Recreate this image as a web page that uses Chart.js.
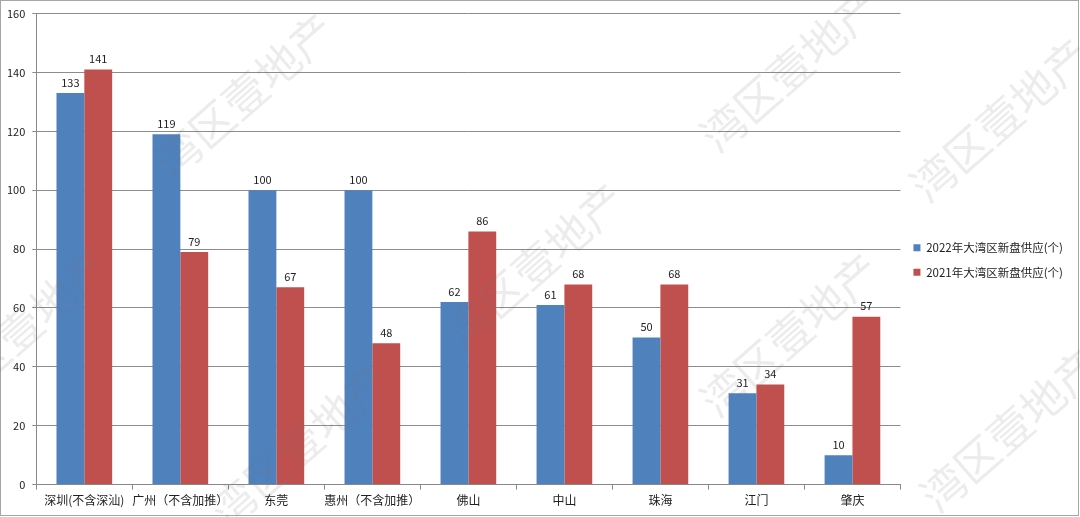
<!DOCTYPE html>
<html>
<head>
<meta charset="utf-8">
<script src="https://cdn.jsdelivr.net/npm/chart.js@4/dist/chart.umd.min.js"></script>
<style>
  html, body { margin: 0; padding: 0; background: #fff; }
  #wrap { width: 1080px; height: 517px; }
</style>
</head>
<body>
<div id="wrap"><canvas id="chart" width="1080" height="517"></canvas></div>
<script>
const cities = ['深圳(不含深汕)', '广州（不含加推）', '东莞', '惠州（不含加推）', '佛山', '中山', '珠海', '江门', '肇庆'];
const supply2022 = [133, 119, 100, 100, 62, 61, 50, 31, 10];
const supply2021 = [141, 79, 67, 48, 86, 68, 68, 34, 57];
const seriesNames = ['2022年大湾区新盘供应(个)', '2021年大湾区新盘供应(个)'];
const watermarkText = '湾区壹地产';

const FONT = '"Noto Sans CJK SC", "DejaVu Sans", sans-serif';

// frame, watermark and value labels
const extras = {
    id: 'extras',
    beforeDraw(chart) {
        const ctx = chart.ctx;
        ctx.save();
        ctx.fillStyle = '#fff';
        ctx.fillRect(0, 0, chart.width, chart.height);
        ctx.strokeStyle = '#a6a6a6';
        ctx.lineWidth = 1;
        ctx.strokeRect(0.5, 0.5, chart.width - 2, chart.height - 2);
        ctx.restore();
    },
    afterDatasetsDraw(chart) {
        const ctx = chart.ctx;
        ctx.save();
        ctx.font = '11px ' + FONT;
        ctx.fillStyle = '#222';
        ctx.textAlign = 'center';
        ctx.textBaseline = 'bottom';
        chart.data.datasets.forEach((ds, i) => {
            chart.getDatasetMeta(i).data.forEach((bar, j) => {
                ctx.fillText(ds.data[j], bar.x, bar.y - 5);
            });
        });
        // watermark
        ctx.font = '44px ' + FONT;
        ctx.fillStyle = 'rgba(120,120,120,0.14)';
        ctx.textAlign = 'center';
        ctx.textBaseline = 'middle';
        const spots = [[245, 95], [535, 265], [790, 70], [1000, 120], [20, 330], [300, 445], [790, 335], [1010, 430]];
        spots.forEach(p => {
            ctx.save();
            ctx.translate(p[0], p[1]);
            ctx.rotate(-0.72);
            ctx.fillText(watermarkText, 0, 0);
            ctx.restore();
        });
        ctx.restore();
    }
};

new Chart(document.getElementById('chart'), {
    type: 'bar',
    data: {
        labels: cities,
        datasets: [
            { label: seriesNames[0], data: supply2022, backgroundColor: '#4f81bd' },
            { label: seriesNames[1], data: supply2021, backgroundColor: '#c0504d' }
        ]
    },
    options: {
        responsive: false,
        animation: false,
        layout: { padding: { left: 0, top: 8, right: 7, bottom: 5 } },
        datasets: { bar: { categoryPercentage: 0.58, barPercentage: 1 } },
        plugins: {
            tooltip: { enabled: false },
            legend: {
                position: 'right',
                labels: {
                    boxWidth: 7,
                    boxHeight: 7,
                    padding: 13,
                    color: '#222',
                    font: { family: FONT, size: 11.5 }
                }
            }
        },
        scales: {
            x: {
                grid: { drawOnChartArea: false, tickLength: 5, color: '#888', offset: true },
                border: { color: '#888' },
                ticks: { color: '#222', font: { family: FONT, size: 12 }, padding: 4, maxRotation: 0, autoSkip: false }
            },
            y: {
                min: 0,
                max: 160,
                ticks: { stepSize: 20, color: '#222', font: { family: FONT, size: 11 }, padding: 7 },
                grid: { color: '#8c8c8c', tickLength: 4 },
                border: { color: '#888' }
            }
        }
    },
    plugins: [extras]
});
</script>
</body>
</html>
